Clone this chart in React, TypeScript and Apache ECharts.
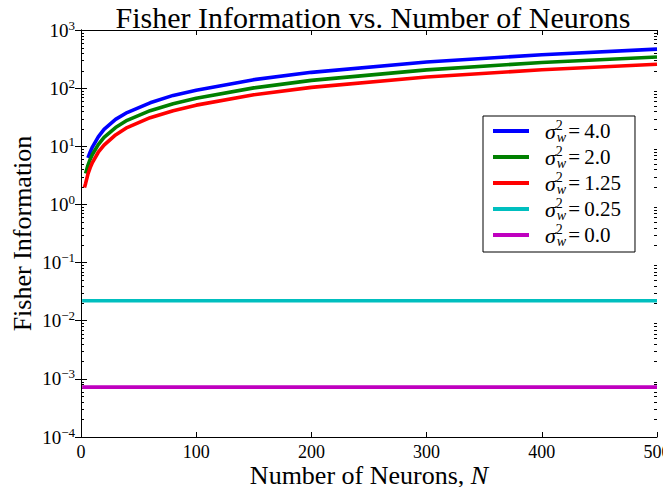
import React, { useEffect, useRef } from "react";
import * as echarts from "echarts";

// ---- data ----
const blueN = [6, 8, 10, 15, 20, 30, 40, 60, 80, 100, 150, 200, 300, 400, 500];
const blueV = [6.3, 8.0, 9.8, 14.5, 19.5, 29, 38, 56, 75, 92, 140, 187, 282, 375, 468];
const greenN = [4, 6, 8, 10, 15, 20, 30, 40, 60, 80, 100, 150, 200, 300, 400, 500];
const greenV = [3.4, 4.7, 6.0, 7.3, 10.7, 14.2, 21, 28, 41, 54, 67, 101, 136, 206, 276, 343];
const redN = [3, 4, 6, 8, 10, 15, 20, 30, 40, 60, 80, 100, 150, 200, 300, 400, 500];
const redV = [1.95, 2.3, 3.3, 4.3, 5.3, 7.9, 10.5, 15.7, 21, 31, 41, 51, 77, 103, 155, 207, 258];
const cyanN = [1, 100, 200, 300, 400, 500];
const cyanV = [0.022, 0.022, 0.022, 0.022, 0.022, 0.022];
const magentaN = [1, 100, 200, 300, 400, 500];
const magentaV = [0.00072, 0.00072, 0.00072, 0.00072, 0.00072, 0.00072];

const seriesLabels = ["4.0", "2.0", "1.25", "0.25", "0.0"];
const seriesColors = ["#0000ff", "#008000", "#ff0000", "#00bfbf", "#bf00bf"];

const xTicks = [0, 100, 200, 300, 400, 500];
const yDecades = [-4, -3, -2, -1, 0, 1, 2];
const minorMultipliers = [2, 3, 4, 5, 6, 7, 8, 9];

const FONT = '"Liberation Serif", "DejaVu Serif", serif';

export default function App() {
  const ref = useRef<HTMLDivElement>(null);

  useEffect(() => {
    if (!ref.current) return;
    const chart = echarts.init(ref.current, undefined, { renderer: "svg" });

    const pairs = (n: number[], v: number[]) => n.map((x, i) => [x, v[i]]);
    const allData = [
      pairs(blueN, blueV),
      pairs(greenN, greenV),
      pairs(redN, redV),
      pairs(cyanN, cyanV),
      pairs(magentaN, magentaV),
    ];

    const minorData: number[][] = [];
    yDecades.forEach((d) =>
      minorMultipliers.forEach((m) => minorData.push([0, m * Math.pow(10, d)]))
    );

    const supFmt = (v: number) => {
      const e = Math.round(Math.log10(v));
      const s = e < 0 ? "\u2212" + -e : String(e);
      return `{b|10}{s|${s}}`;
    };

    const lineSeries = allData.map((d, i) => ({
      name: seriesLabels[i],
      type: "line",
      data: d,
      symbol: "none",
      smooth: false,
      color: seriesColors[i],
      lineStyle: { width: 3.6, color: seriesColors[i] },
      z: 3,
    }));

    const option: any = {
      animation: false,
      backgroundColor: "#fff",
      title: {
        text: "Fisher Information vs. Number of Neurons",
        left: 368,
        textAlign: "center",
        top: -3,
        textStyle: { fontFamily: FONT, fontSize: 30, fontWeight: "normal", color: "#000" },
      },
      grid: { left: 81, right: 6, top: 30, bottom: 50, containLabel: false, outerBoundsMode: "none" },
      xAxis: [
        {
          type: "value",
          min: xTicks[0],
          max: xTicks[xTicks.length - 1],
          interval: 100,
          position: "bottom",
          name: "Number of Neurons, {it|N}",
          nameLocation: "middle",
          nameGap: 25,
          nameMoveOverlap: false,
          nameTextStyle: {
            fontFamily: FONT,
            fontSize: 26,
            color: "#000",
            rich: { it: { fontFamily: FONT, fontSize: 26, fontStyle: "italic", color: "#000" } },
          },
          axisLine: { show: true, lineStyle: { color: "#000", width: 1 } },
          axisTick: { show: true, inside: true, length: 5, lineStyle: { color: "#000" } },
          axisLabel: { fontFamily: FONT, fontSize: 18, color: "#000", margin: 6, hideOverlap: false },
          splitLine: { show: false },
        },
        {
          type: "value",
          min: xTicks[0],
          max: xTicks[xTicks.length - 1],
          interval: 100,
          position: "top",
          axisLine: { show: true, lineStyle: { color: "#000", width: 1 } },
          axisTick: { show: true, inside: true, length: 5, lineStyle: { color: "#000" } },
          axisLabel: { show: false },
          splitLine: { show: false },
        },
      ],
      yAxis: [
        {
          type: "log",
          logBase: 10,
          min: 1e-4,
          max: 1e3,
          position: "left",
          name: "Fisher Information",
          nameLocation: "middle",
          nameGap: 46,
          nameMoveOverlap: false,
          nameTextStyle: { fontFamily: FONT, fontSize: 26, color: "#000" },
          axisLine: { show: true, lineStyle: { color: "#000", width: 1 } },
          axisTick: { show: true, inside: true, length: 6, lineStyle: { color: "#000" } },
          axisLabel: {
            formatter: supFmt,
            margin: 6,
            rich: {
              b: { fontFamily: FONT, fontSize: 19, color: "#000" },
              s: { fontFamily: FONT, fontSize: 13, color: "#000", padding: [0, 0, 10, 0] },
            },
          },
          splitLine: { show: false },
        },
        {
          type: "log",
          logBase: 10,
          min: 1e-4,
          max: 1e3,
          position: "right",
          axisLine: { show: true, lineStyle: { color: "#000", width: 1 } },
          axisTick: { show: true, inside: true, length: 6, lineStyle: { color: "#000" } },
          axisLabel: { show: false },
          splitLine: { show: false },
        },
      ],
      legend: {
        data: seriesLabels,
        orient: "vertical",
        left: 483,
        top: 116,
        padding: [2, 14, 4, 10],
        itemGap: 0,
        itemWidth: 36,
        itemHeight: 4,
        icon: "rect",
        borderColor: "#000",
        borderWidth: 1,
        backgroundColor: "#fff",
        formatter: (name: string) => `{g|σ}{sup|2}{sub|w}{t|=\u2009${name}}`,
        textStyle: {
          fontFamily: FONT,
          color: "#000",
          rich: {
            g: { fontFamily: FONT, fontSize: 22, fontStyle: "italic", color: "#000", lineHeight: 26, padding: [0, 0, 0, 11] },
            sup: { fontFamily: FONT, fontSize: 14, color: "#000", width: 1, verticalAlign: "top", lineHeight: 14 },
            sub: { fontFamily: FONT, fontSize: 14, fontStyle: "italic", color: "#000", verticalAlign: "bottom", lineHeight: 14, padding: [0, 2, 0, 0] },
            t: { fontFamily: FONT, fontSize: 21, color: "#000", lineHeight: 26 },
          },
        },
        z: 10,
      },
      series: [
        ...lineSeries,
        {
          type: "custom",
          name: "minorTicks",
          xAxisIndex: 0,
          yAxisIndex: 0,
          data: minorData,
          silent: true,
          renderItem: (params: any, api: any) => {
            const cs = params.coordSys;
            const p = api.coord([0, api.value(1)]);
            const y = Math.round(p[1]) + 0.5;
            return {
              type: "group",
              children: [
                { type: "line", shape: { x1: cs.x, y1: y, x2: cs.x + 3, y2: y }, style: { stroke: "#000", lineWidth: 1 } },
                { type: "line", shape: { x1: cs.x + cs.width - 3, y1: y, x2: cs.x + cs.width, y2: y }, style: { stroke: "#000", lineWidth: 1 } },
              ],
            };
          },
          z: 1,
        },
      ],
    };

    chart.setOption(option);
    return () => chart.dispose();
  }, []);

  return (
    <div
      ref={ref}
      style={{ position: "fixed", left: 0, top: 0, width: 663, height: 487, background: "#fff" }}
    />
  );
}
